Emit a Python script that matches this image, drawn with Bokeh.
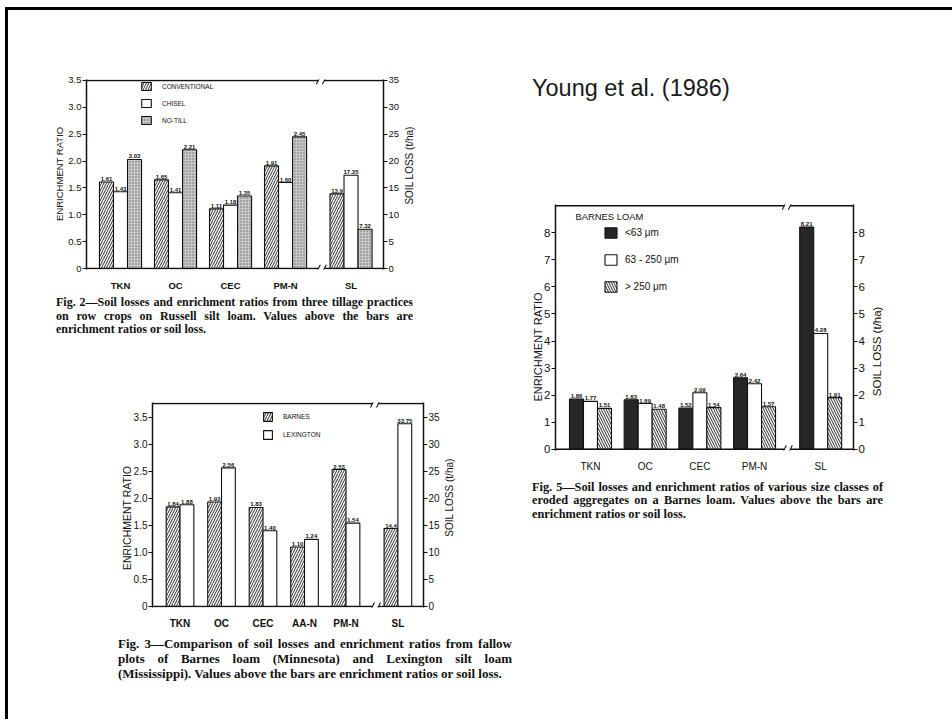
import math
import numpy as np
from bokeh.plotting import figure
from bokeh.models import (Range1d, LinearAxis, FixedTicker, Legend, LegendItem, Label,
                          Div, Spacer, ColumnDataSource, CustomJSTickFormatter)
from bokeh.layouts import row, column
from bokeh.core.properties import value
from bokeh.embed import file_html
from bokeh.resources import INLINE

# ---------------- data ----------------
# Fig. 2 (Russell silt loam, tillage practices)
f2_categories = ["TKN", "OC", "CEC", "PM-N"]
f2_series_names = ["CONVENTIONAL", "CHISEL", "NO-TILL"]
f2_conventional = [1.61, 1.65, 1.11, 1.91]
f2_chisel = [1.43, 1.41, 1.18, 1.60]
f2_notill = [2.03, 2.21, 1.35, 2.45]
f2_soil_loss = [13.9, 17.35, 7.32]          # t/ha: conventional, chisel, no-till
f2_ratio_ticks = [0, 0.5, 1.0, 1.5, 2.0, 2.5, 3.0, 3.5]
f2_soil_ticks = [0, 5, 10, 15, 20, 25, 30, 35]

# Fig. 3 (Barnes loam vs Lexington silt loam)
f3_categories = ["TKN", "OC", "CEC", "AA-N", "PM-N"]
f3_series_names = ["BARNES", "LEXINGTON"]
f3_barnes = [1.84, 1.93, 1.83, 1.10, 2.53]
f3_lexington = [1.88, 2.56, 1.40, 1.24, 1.54]
f3_soil_loss = [14.4, 33.75]
f3_ratio_ticks = [0, 0.5, 1.0, 1.5, 2.0, 2.5, 3.0, 3.5]
f3_soil_ticks = [0, 5, 10, 15, 20, 25, 30, 35]

# Fig. 5 (aggregate size classes, Barnes loam)
f5_categories = ["TKN", "OC", "CEC", "PM-N"]
f5_series_names = ["<63 \u03bcm", "63 - 250 \u03bcm", "> 250 \u03bcm"]
f5_lt63 = [1.86, 1.83, 1.52, 2.64]
f5_63_250 = [1.77, 1.69, 2.09, 2.42]
f5_gt250 = [1.51, 1.48, 1.54, 1.57]
f5_soil_loss = [8.21, 4.28, 1.91]
f5_ticks = [0, 1, 2, 3, 4, 5, 6, 7, 8]

SANS = "Liberation Sans"
SERIF = "Liberation Serif"
INK = "#111111"


def title_axis(text, anchor, fs, standoff):
    """Line-less axis whose single (rotated) tick label serves as the axis title."""
    c = float(anchor)
    return LinearAxis(ticker=FixedTicker(ticks=[c]), major_label_overrides={c: text},
                      major_label_orientation=math.pi / 2, major_label_standoff=standoff,
                      major_label_text_font=SANS, major_label_text_font_size=fs,
                      major_label_text_color=INK, axis_line_color=None,
                      major_tick_line_color=None, major_tick_out=0, major_tick_in=0,
                      minor_tick_line_color=None)


def make_chart(cats, series, soil, names, styles, soil_fmt, *, W, L, T, FW, FH, B,
               xr, ymax, smax, gap, bw, brk, rticks, sticks, half_fmt, f, leg, lab):
    n, k = len(cats), len(series)
    pad = 0.005
    xs = np.arange(n, dtype=float)
    sl_x = float(n - 1 + gap)
    offs = (np.arange(k) - (k - 1) / 2.0) * bw
    p = figure(width=W, height=T + FH + B, x_range=Range1d(xr[0], xr[1]),
               y_range=Range1d(-ymax * pad, ymax * (1 + pad)),
               output_backend="svg", toolbar_location=None,
               min_border_left=L, min_border_right=W - L - FW,
               min_border_top=T, min_border_bottom=B,
               outline_line_color=None, background_fill_color="white",
               border_fill_color="white")
    p.extra_y_ranges = {"soil": Range1d(-smax * pad, smax * (1 + pad))}
    p.xgrid.visible = False
    p.ygrid.visible = False

    ya = p.yaxis[0]
    ya.ticker = FixedTicker(ticks=rticks)
    if half_fmt:
        ya.formatter = CustomJSTickFormatter(code="return tick == 0 ? '0' : tick.toFixed(1)")
    ra = LinearAxis(y_range_name="soil", ticker=FixedTicker(ticks=sticks))
    p.add_layout(ra, "right")
    for ax in (ya, ra):
        ax.axis_line_color = INK
        ax.axis_line_width = 1.5
        ax.major_tick_line_color = INK
        ax.major_tick_line_width = 1.2
        ax.major_tick_out = 4
        ax.major_tick_in = 0
        ax.minor_tick_line_color = None
        ax.major_label_standoff = 1
        ax.major_label_text_font = SANS
        ax.major_label_text_font_size = f["tick"]
        ax.major_label_text_color = INK
    # axis titles (both read bottom-to-top), outside the tick labels.
    # left title ends at its anchor, right title starts at its anchor.
    p.add_layout(title_axis("ENRICHMENT RATIO", lab["l_y"], lab["l_fs"], lab["l_so"]), "left")
    p.add_layout(title_axis("SOIL LOSS (t/ha)", lab["r_y"], lab["r_fs"], lab["r_so"]), "right")

    xa = p.xaxis[0]
    xticks = [float(v) for v in xs] + [sl_x]
    xa.ticker = FixedTicker(ticks=xticks)
    xa.major_label_overrides = {t: c for t, c in zip(xticks, list(cats) + ["SL"])}
    xa.axis_line_color = None
    xa.major_tick_line_color = None
    xa.minor_tick_line_color = None
    xa.major_label_standoff = f["cat_standoff"]
    xa.major_label_text_font = SANS
    xa.major_label_text_font_size = f["cat"]
    xa.major_label_text_font_style = f["cat_style"]
    xa.major_label_text_color = INK

    rends = []
    for i in range(k):
        src = ColumnDataSource(dict(x=xs + offs[i], top=series[i],
                                    lab=[f"{v:.2f}" for v in series[i]]))
        r = p.vbar(x="x", top="top", width=bw, source=src, line_color=INK,
                   line_width=1.1, **styles[i])
        p.text(x="x", y="top", text="lab", source=src, y_offset=-1,
               text_align="center", text_baseline="bottom",
               text_font=value(SANS), text_font_size=f["val"],
               text_font_style="bold", text_color=INK)
        ssrc = ColumnDataSource(dict(x=[sl_x + offs[i]], top=[soil[i]],
                                     lab=[soil_fmt(soil[i])]))
        p.vbar(x="x", top="top", width=bw, source=ssrc, y_range_name="soil",
               line_color=INK, line_width=1.1, **styles[i])
        p.text(x="x", y="top", text="lab", source=ssrc, y_range_name="soil",
               y_offset=-1, text_align="center", text_baseline="bottom",
               text_font=value(SANS), text_font_size=f["val"],
               text_font_style="bold", text_color=INK)
        rends.append(r)

    # frame top / bottom lines with axis-break marks
    x0, x1 = xr
    ux = (x1 - x0) / FW
    uy = ymax * (1 + 2 * pad) / FH
    g = 3 * ux
    for yv in (0.0, ymax):
        p.segment(x0=[x0, brk + g], y0=[yv, yv], x1=[brk - g, x1], y1=[yv, yv],
                  line_color=INK, line_width=1.5)
        p.segment(x0=[brk - g - 2 * ux, brk + g - 2 * ux], y0=[yv - 4 * uy] * 2,
                  x1=[brk - g + 2 * ux, brk + g + 2 * ux], y1=[yv + 4 * uy] * 2,
                  line_color=INK, line_width=1.1)

    legend = Legend(items=[LegendItem(label=names[i], renderers=[rends[i]]) for i in range(k)],
                    location=leg["loc"], orientation="vertical",
                    glyph_width=leg["gw"], glyph_height=leg["gh"], label_height=leg["gh"],
                    spacing=leg["sp"], padding=0, margin=0,
                    border_line_color=None, background_fill_alpha=0,
                    label_text_font=SANS, label_text_font_size=leg["fs"],
                    label_text_color=INK, label_standoff=leg["so"])
    p.add_layout(legend)
    return p


def caption(lines, width, font_px, lh):
    line_css = (f"width:{width}px;text-align:justify;text-align-last:justify;"
                "white-space:nowrap")
    html = "".join(f'<div style="{line_css}">{t}</div>' for t in lines[:-1])
    html += f'<div style="white-space:nowrap">{lines[-1]}</div>'
    return Div(text=html, width=width, height=int(math.ceil(lh * len(lines))) + 1, margin=0,
               styles={"font-family": SERIF, "font-weight": "bold",
                       "font-size": f"{font_px}px", "line-height": f"{lh}px",
                       "color": INK})


hatch_lines = dict(fill_color="white", hatch_pattern="/", hatch_color=INK,
                   hatch_scale=5, hatch_weight=0.9)
plain = dict(fill_color="white")
stipple = dict(fill_color="#c9c9c9", hatch_pattern=".", hatch_color="#666666",
               hatch_scale=3, hatch_weight=0.8)
dark = dict(fill_color="#262626")
hatch_back = dict(fill_color="white", hatch_pattern="\\", hatch_color=INK,
                  hatch_scale=5, hatch_weight=0.9)

# ---------------- Fig. 2 ----------------
p2 = make_chart(f2_categories, [f2_conventional, f2_chisel, f2_notill], f2_soil_loss,
                f2_series_names, [hatch_lines, plain, stipple], lambda v: f"{v:g}",
                W=515, L=78, T=69, FW=297, FH=194, B=20,
                xr=(-0.618, 4.78), ymax=3.5, smax=35, gap=1.19, bw=0.255, brk=3.65,
                rticks=f2_ratio_ticks, sticks=f2_soil_ticks, half_fmt=True,
                f=dict(tick="9.5px", cat="9.5px", cat_style="bold", val="6px", cat_standoff=4),
                leg=dict(loc=(54, 144), gw=12, gh=10, sp=7, fs="6.5px", so=10),
                lab=dict(l_y=2.64, l_fs="9.5px", l_so=6, r_y=1.19, r_fs="10px", r_so=7))

# ---------------- Fig. 3 ----------------
p3 = make_chart(f3_categories, [f3_barnes, f3_lexington], f3_soil_loss,
                f3_series_names, [hatch_lines, plain], lambda v: f"{v:g}",
                W=515, L=144, T=64, FW=271, FH=209, B=20,
                xr=(-0.663, 5.867), ymax=3.75, smax=37.5, gap=1.25, bw=0.333, brk=4.71,
                rticks=f3_ratio_ticks, sticks=f3_soil_ticks, half_fmt=True,
                f=dict(tick="10px", cat="10px", cat_style="bold", val="6px", cat_standoff=4),
                leg=dict(loc=(110, 167), gw=11, gh=11, sp=7, fs="6.5px", so=10),
                lab=dict(l_y=2.60, l_fs="10.5px", l_so=3, r_y=1.29, r_fs="10px", r_so=7))

# ---------------- Fig. 5 ----------------
p5 = make_chart(f5_categories, [f5_lt63, f5_63_250, f5_gt250], f5_soil_loss,
                f5_series_names, [dark, plain, hatch_back], lambda v: f"{v:.2f}",
                W=429, L=32, T=102, FW=298, FH=250, B=20,
                xr=(-0.64, 4.81), ymax=9, smax=9, gap=1.21, bw=0.256, brk=3.6,
                rticks=f5_ticks, sticks=f5_ticks, half_fmt=False,
                f=dict(tick="11.5px", cat="10px", cat_style="normal", val="6px", cat_standoff=4),
                leg=dict(loc=(48, 157), gw=15, gh=13, sp=14, fs="10px", so=7),
                lab=dict(l_y=5.8, l_fs="11px", l_so=3, r_y=1.96, r_fs="11.5px", r_so=10))
p5.add_layout(Label(x=-0.274, y=8.59, text="BARNES LOAM", text_font=SANS,
                    text_font_size="9.4px", text_baseline="middle", text_color=INK))

cap2 = caption(["Fig. 2\u2014Soil losses and enrichment ratios from three tillage practices",
                "on row crops on Russell silt loam. Values above the bars are",
                "enrichment ratios or soil loss."], 357, 12, 13.5)
cap3 = caption(["Fig. 3\u2014Comparison of soil losses and enrichment ratios from fallow",
                "plots of Barnes loam (Minnesota) and Lexington silt loam",
                "(Mississippi). Values above the bars are enrichment ratios or soil loss."],
               394, 13, 15)
cap5 = caption(["Fig. 5\u2014Soil losses and enrichment ratios of various size classes of",
                "eroded aggregates on a Barnes loam. Values above the bars are",
                "enrichment ratios or soil loss."], 351, 12.3, 13.3)

title = Div(text="Young et al. (1986)", width=300, height=28, margin=0,
            styles={"font-family": "Liberation Sans", "font-size": "23.5px",
                    "line-height": "28px", "color": "#1a1a1a", "white-space": "nowrap"})

left = column(row(p2),
              Spacer(height=3, width=515, margin=0),
              row(Spacer(width=48, height=42, margin=0), cap2),
              row(p3),
              Spacer(height=5, width=515, margin=0),
              row(Spacer(width=110, height=47, margin=0), cap3),
              Spacer(height=36, width=515, margin=0))
right = column(Spacer(height=64, width=429, margin=0),
               row(Spacer(width=9, height=28, margin=0), title),
               row(p5),
               Spacer(height=7, width=429, margin=0),
               row(Spacer(width=9, height=41, margin=0), cap5))
content = row(left, right, styles={"border-left": "3px solid #000",
                                   "border-top": "3px solid #000"})
root = column(Spacer(height=7, width=950, margin=0),
              row(Spacer(width=5, height=10, margin=0), content))

open("out.html", "w").write(file_html(root, INLINE))
